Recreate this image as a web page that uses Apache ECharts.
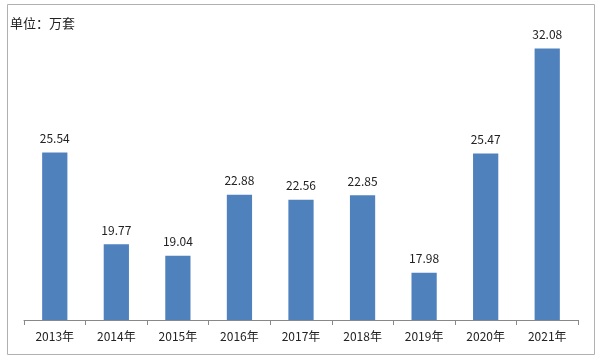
<!DOCTYPE html>
<html><head><meta charset="utf-8">
<script src="https://cdn.jsdelivr.net/npm/echarts@6/dist/echarts.min.js"></script>
<style>html,body{margin:0;padding:0;background:#fff}#c{width:600px;height:364px}</style>
</head><body><div id="c"></div>
<script>
const categories = ['2013年','2014年','2015年','2016年','2017年','2018年','2019年','2020年','2021年'];
const values = [25.54,19.77,19.04,22.88,22.56,22.85,17.98,25.47,32.08];
const unitLabel = '单位：万套';
const chart = echarts.init(document.getElementById('c'));
const ff = '"Noto Sans CJK SC","Microsoft YaHei",sans-serif';
chart.setOption({
  animation:false,
  textStyle:{fontFamily:ff},
  graphic:[{type:'rect',shape:{x:7.5,y:4.5,width:587,height:350},style:{fill:'none',stroke:'#b0b0b0',lineWidth:1}},
    {type:'text',left:10,top:17,style:{text:unitLabel,font:'13px '+ff,fill:'#222'}}],
  grid:{left:24,right:22,top:18,bottom:44},
  xAxis:{type:'category',data:categories,
    axisLine:{lineStyle:{color:'#888'}},
    axisTick:{show:true,length:5,lineStyle:{color:'#888'}},
    axisLabel:{color:'#222',fontSize:12,margin:10,fontFamily:ff}},
  yAxis:{type:'value',min:15,max:34,show:false,splitLine:{show:false}},
  series:[{type:'bar',data:values,barWidth:'41%',
    itemStyle:{color:'#4F81BD'},
    label:{show:true,position:'top',distance:8,color:'#222',fontSize:12,fontFamily:ff,formatter:p=>p.value.toFixed(2)}}]
});
</script></body></html>
